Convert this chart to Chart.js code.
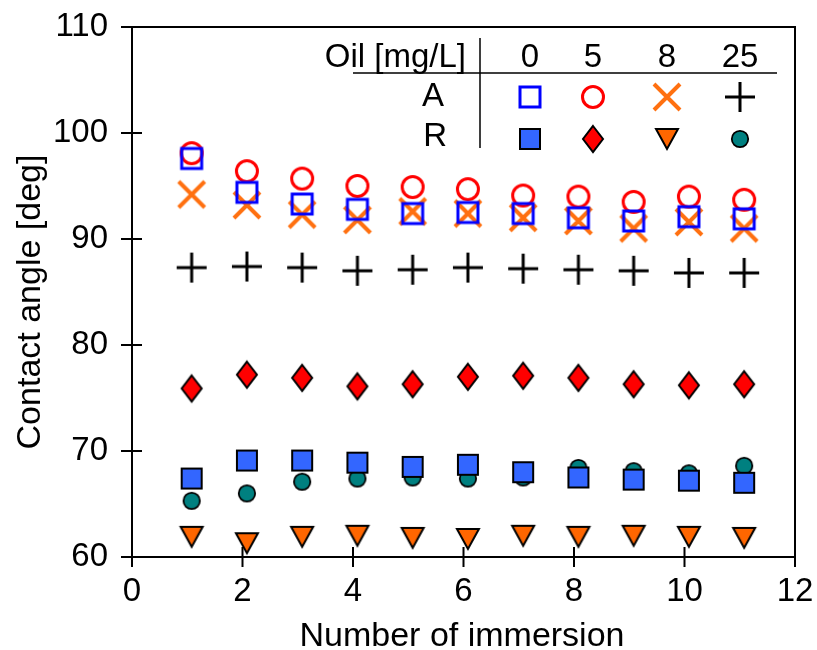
<!DOCTYPE html>
<html>
<head>
<meta charset="utf-8">
<script src="https://cdn.jsdelivr.net/npm/chart.js@4/dist/chart.umd.min.js"></script>
<style>
  html, body { margin: 0; padding: 0; background: #fff; }
</style>
</head>
<body>
<canvas id="myChart" width="817" height="650"></canvas>
<script>
// immersion count (markers sit slightly right of the integer)
const immersion = [1.08, 2.08, 3.08, 4.08, 5.08, 6.08, 7.08, 8.08, 9.08, 10.08, 11.08];

// advancing angle (A) for each oil concentration
const adv0 = [97.6, 94.4, 93.3, 92.8, 92.4, 92.5, 92.4, 92.0, 91.7, 92.1, 91.9];
const adv5 = [98.1, 96.4, 95.7, 95.0, 94.9, 94.7, 94.1, 94.0, 93.5, 94.0, 93.7];
const adv8 = [94.2, 93.2, 92.3, 91.8, 92.6, 92.4, 92.0, 91.7, 91.0, 91.6, 91.0];
const adv25 = [87.3, 87.4, 87.3, 87.0, 87.1, 87.3, 87.2, 87.1, 87.0, 86.8, 86.8];

// receding angle (R)
const rec0 = [67.4, 69.1, 69.1, 68.9, 68.5, 68.7, 68.0, 67.5, 67.3, 67.2, 67.0];
const rec5 = [75.9, 77.2, 76.9, 76.1, 76.3, 77.0, 77.1, 76.9, 76.3, 76.2, 76.3];
const rec8 = [61.9, 61.3, 61.9, 62.0, 61.8, 61.7, 62.0, 61.9, 62.0, 61.9, 61.8];
const rec25 = [65.3, 66.0, 67.1, 67.4, 67.5, 67.4, 67.5, 68.4, 68.1, 67.9, 68.6];

const oilLevels = ['0', '5', '8', '25'];
const xTicks = [0, 2, 4, 6, 8, 10, 12];
const yTicks = [60, 70, 80, 90, 100, 110];

const FONT = "'Liberation Sans', Arial, Helvetica, sans-serif";

// --- marker images ---
function marker(w, h, draw) {
    const c = document.createElement('canvas');
    c.width = w;
    c.height = h;
    const g = c.getContext('2d');
    draw(g, w, h);
    return c;
}

const mkOpenSquare = marker(28, 28, (g) => {
    g.strokeStyle = '#0000ff';
    g.lineWidth = 3;
    g.strokeRect(4, 4, 20, 20);
});
const mkOpenCircle = marker(30, 30, (g) => {
    g.strokeStyle = '#ff0000';
    g.lineWidth = 3;
    g.beginPath();
    g.arc(15, 15, 10.5, 0, Math.PI * 2);
    g.stroke();
});
const mkCross = marker(34, 34, (g) => {
    g.strokeStyle = '#ff7010';
    g.lineWidth = 4;
    g.beginPath();
    g.moveTo(4, 4); g.lineTo(30, 30);
    g.moveTo(30, 4); g.lineTo(4, 30);
    g.stroke();
});
const mkPlus = marker(34, 34, (g) => {
    g.strokeStyle = '#000';
    g.lineWidth = 3;
    g.beginPath();
    g.moveTo(2, 17); g.lineTo(32, 17);
    g.moveTo(17, 2); g.lineTo(17, 32);
    g.stroke();
});
const mkSquare = marker(26, 26, (g) => {
    g.fillStyle = '#3366ff';
    g.strokeStyle = '#000';
    g.lineWidth = 2;
    g.fillRect(3, 3, 20, 20);
    g.strokeRect(3, 3, 20, 20);
});
const mkDiamond = marker(26, 32, (g) => {
    g.fillStyle = '#ff0000';
    g.strokeStyle = '#000';
    g.lineWidth = 2;
    g.beginPath();
    g.moveTo(13, 3); g.lineTo(23, 16); g.lineTo(13, 29); g.lineTo(3, 16);
    g.closePath();
    g.fill();
    g.stroke();
});
const mkTriangle = marker(28, 26, (g) => {
    g.fillStyle = '#ff6600';
    g.strokeStyle = '#000';
    g.lineWidth = 2;
    g.beginPath();
    g.moveTo(3, 3); g.lineTo(25, 3); g.lineTo(14, 23);
    g.closePath();
    g.fill();
    g.stroke();
});
const mkDot = marker(22, 22, (g) => {
    g.fillStyle = '#008080';
    g.strokeStyle = '#000';
    g.lineWidth = 1.8;
    g.beginPath();
    g.arc(11, 11, 8.2, 0, Math.PI * 2);
    g.fill();
    g.stroke();
});

function pts(vals) {
    return vals.map((v, i) => ({ x: immersion[i], y: v }));
}

function ds(label, vals, img, order) {
    return {
        label: label,
        data: pts(vals),
        pointStyle: img,
        pointRadius: 12,
        showLine: false,
        order: order,
        clip: false
    };
}

// axes frame, crossing ticks, titles and the little key table
const decor = {
    id: 'decor',
    afterDraw(chart) {
        const ctx = chart.ctx;
        const a = chart.chartArea;
        const xs = chart.scales.x;
        const ys = chart.scales.y;
        ctx.save();
        ctx.strokeStyle = '#000';
        ctx.lineWidth = 2;
        ctx.beginPath();
        ctx.rect(a.left, a.top, a.right - a.left, a.bottom - a.top);
        for (const t of xTicks) {
            const px = xs.getPixelForValue(t);
            ctx.moveTo(px, a.bottom - 10);
            ctx.lineTo(px, a.bottom + 10);
        }
        for (const t of yTicks) {
            const py = ys.getPixelForValue(t);
            ctx.moveTo(a.left - 11, py);
            ctx.lineTo(a.left + 10, py);
        }
        ctx.stroke();

        // axis titles
        ctx.fillStyle = '#000';
        ctx.font = '34px ' + FONT;
        ctx.textAlign = 'center';
        ctx.textBaseline = 'alphabetic';
        ctx.fillText('Number of immersion', 462, 646);
        ctx.save();
        ctx.translate(40, 302);
        ctx.rotate(-Math.PI / 2);
        ctx.fillText('Contact angle [deg]', 0, 0);
        ctx.restore();

        // key table
        ctx.lineWidth = 1.5;
        ctx.beginPath();
        ctx.moveTo(353, 73); ctx.lineTo(777, 73);
        ctx.moveTo(480, 38); ctx.lineTo(480, 148);
        ctx.stroke();

        ctx.font = '33px ' + FONT;
        ctx.textAlign = 'right';
        ctx.fillText('Oil [mg/L]', 466, 67);
        ctx.fillText('A', 444, 106);
        ctx.fillText('R', 447, 146);
        ctx.textAlign = 'center';
        const cols = [530, 593, 667, 740];
        oilLevels.forEach((lv, i) => ctx.fillText(lv, cols[i], 67));

        const rowA = [mkOpenSquare, mkOpenCircle, mkCross, mkPlus];
        const rowR = [mkSquare, mkDiamond, mkTriangle, mkDot];
        rowA.forEach((m, i) => ctx.drawImage(m, cols[i] - m.width / 2, 97 - m.height / 2));
        rowR.forEach((m, i) => ctx.drawImage(m, cols[i] - m.width / 2, 139 - m.height / 2));
        ctx.restore();
    }
};

Chart.defaults.font.family = FONT;
Chart.defaults.font.size = 33;
Chart.defaults.color = '#000';

const ctx = document.getElementById('myChart').getContext('2d');
const chart = new Chart(ctx, {
    type: 'scatter',
    data: {
        datasets: [
            ds('A 0', adv0, mkOpenSquare, 1),
            ds('A 5', adv5, mkOpenCircle, 3),
            ds('A 8', adv8, mkCross, 2),
            ds('A 25', adv25, mkPlus, 4),
            ds('R 0', rec0, mkSquare, 5),
            ds('R 5', rec5, mkDiamond, 6),
            ds('R 8', rec8, mkTriangle, 7),
            ds('R 25', rec25, mkDot, 8)
        ]
    },
    options: {
        responsive: false,
        animation: false,
        events: [],
        layout: { padding: { top: 27, right: 22, left: 0, bottom: 0 } },
        plugins: {
            legend: { display: false },
            tooltip: { enabled: false }
        },
        scales: {
            x: {
                type: 'linear',
                min: 0,
                max: 12,
                // fixed axis band; end labels may hang over the padding
                afterFit: (s) => {
                    s.height = 93;
                    s.paddingLeft = 0;
                    s.paddingRight = 0;
                },
                afterBuildTicks: (s) => { s.ticks = xTicks.map(v => ({ value: v })); },
                grid: { display: false, drawTicks: false },
                border: { display: false },
                ticks: { padding: 15, maxRotation: 0 }
            },
            y: {
                type: 'linear',
                min: 60,
                max: 110,
                afterFit: (s) => {
                    s.width = 132;
                    s.paddingTop = 0;
                    s.paddingBottom = 0;
                },
                afterBuildTicks: (s) => { s.ticks = yTicks.map(v => ({ value: v })); },
                grid: { display: false, drawTicks: false },
                border: { display: false },
                ticks: { padding: 24 }
            }
        }
    },
    plugins: [decor]
});
</script>
</body>
</html>
